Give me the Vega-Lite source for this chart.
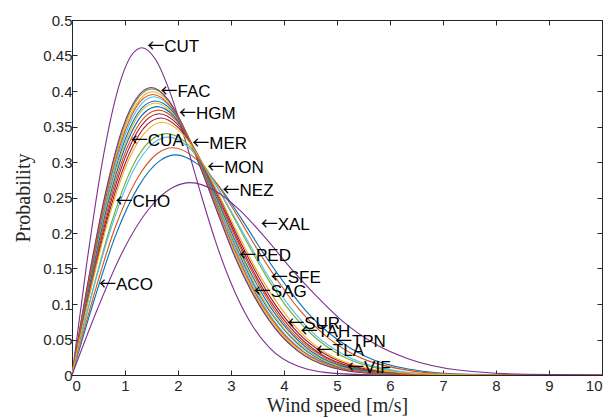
{
  "$schema": "https://vega.github.io/schema/vega-lite/v6.json",
  "width": 530,
  "height": 355,
  "autosize": {"type": "none"},
  "padding": {"left": 72, "top": 20, "right": 10, "bottom": 43},
  "background": "white",
  "config": {
    "view": {"stroke": "#262626", "strokeWidth": 1},
    "axis": {
      "grid": false,
      "labelFont": "Liberation Sans",
      "labelFontSize": 15,
      "labelColor": "#262626",
      "tickColor": "#262626",
      "domainColor": "#262626",
      "tickSize": -5,
      "titleFont": "Liberation Serif",
      "titleFontSize": 20,
      "titleFontWeight": "normal",
      "titleColor": "#262626"
    }
  },
  "datasets": {
    "curves": [
      {"s": "ACO", "x": [0,0.42,0.83,1.25,1.66,1.96,2.35,2.77,3.19,3.6,4.02,4.43,4.99,5.54,6.37,7.48,8.86,10], "y": [0,0.106,0.198,0.265,0.302,0.31,0.298,0.266,0.221,0.173,0.128,0.089,0.051,0.026,0.008,0.001,0,0]},
      {"s": "CHO", "x": [0,0.4,0.8,1.21,1.61,1.9,2.28,2.68,3.08,3.48,3.89,4.29,4.82,5.36,6.16,7.24,8.58,10], "y": [0,0.109,0.205,0.274,0.312,0.32,0.308,0.275,0.229,0.179,0.132,0.092,0.053,0.027,0.009,0.001,0,0]},
      {"s": "CUA", "x": [0,0.32,0.65,0.97,1.29,1.52,1.83,2.15,2.47,2.8,3.12,3.44,3.87,4.3,4.95,5.81,6.88,10], "y": [0,0.136,0.255,0.342,0.389,0.399,0.384,0.342,0.285,0.223,0.165,0.115,0.066,0.034,0.011,0.002,0,0]},
      {"s": "CUT", "x": [0,0.28,0.56,0.84,1.12,1.32,1.58,1.86,2.14,2.42,2.7,2.98,3.35,3.72,4.28,5.02,5.95,10], "y": [0,0.158,0.295,0.395,0.45,0.461,0.444,0.396,0.33,0.258,0.19,0.133,0.076,0.039,0.012,0.002,0,0]},
      {"s": "FAC", "x": [0,0.32,0.64,0.96,1.28,1.51,1.81,2.13,2.45,2.77,3.09,3.41,3.83,4.26,4.9,5.75,6.82,10], "y": [0,0.138,0.257,0.345,0.393,0.403,0.388,0.345,0.288,0.225,0.166,0.116,0.066,0.034,0.011,0.002,0,0]},
      {"s": "HGM", "x": [0,0.33,0.66,0.99,1.31,1.55,1.86,2.19,2.52,2.85,3.18,3.5,3.94,4.38,5.04,5.91,7.01,10], "y": [0,0.134,0.25,0.336,0.382,0.392,0.377,0.336,0.28,0.219,0.162,0.113,0.064,0.033,0.011,0.002,0,0]},
      {"s": "MER", "x": [0,0.35,0.7,1.05,1.4,1.65,1.98,2.33,2.68,3.03,3.38,3.73,4.19,4.66,5.36,6.29,7.46,10], "y": [0,0.126,0.235,0.315,0.359,0.368,0.354,0.316,0.263,0.206,0.152,0.106,0.061,0.031,0.01,0.002,0,0]},
      {"s": "MON", "x": [0,0.33,0.67,1,1.33,1.57,1.89,2.22,2.55,2.89,3.22,3.55,4,4.44,5.11,5.99,7.1,10], "y": [0,0.132,0.247,0.331,0.377,0.386,0.372,0.331,0.276,0.216,0.16,0.111,0.064,0.033,0.01,0.002,0,0]},
      {"s": "NEZ", "x": [0,0.35,0.69,1.04,1.38,1.63,1.96,2.3,2.65,2.99,3.34,3.68,4.14,4.6,5.29,6.21,7.36,10], "y": [0,0.128,0.238,0.32,0.364,0.373,0.359,0.32,0.266,0.209,0.154,0.108,0.061,0.032,0.01,0.002,0,0]},
      {"s": "PED", "x": [0,0.34,0.67,1.01,1.34,1.58,1.9,2.24,2.58,2.91,3.25,3.58,4.03,4.48,5.15,6.05,7.17,10], "y": [0,0.131,0.245,0.328,0.374,0.383,0.368,0.328,0.274,0.214,0.158,0.11,0.063,0.033,0.01,0.002,0,0]},
      {"s": "SAG", "x": [0,0.32,0.64,0.95,1.27,1.5,1.8,2.12,2.44,2.76,3.07,3.39,3.82,4.24,4.88,5.72,6.78,10], "y": [0,0.138,0.259,0.347,0.395,0.405,0.389,0.347,0.289,0.226,0.167,0.117,0.067,0.035,0.011,0.002,0,0]},
      {"s": "SFE", "x": [0,0.38,0.76,1.13,1.51,1.78,2.14,2.52,2.9,3.28,3.65,4.03,4.54,5.04,5.8,6.8,8.06,10], "y": [0,0.116,0.218,0.292,0.332,0.34,0.328,0.292,0.243,0.19,0.141,0.098,0.056,0.029,0.009,0.001,0,0]},
      {"s": "SUR", "x": [0,0.38,0.77,1.15,1.54,1.81,2.18,2.56,2.94,3.33,3.71,4.1,4.61,5.12,5.89,6.91,8.19,10], "y": [0,0.115,0.214,0.287,0.327,0.335,0.322,0.287,0.239,0.187,0.138,0.097,0.055,0.029,0.009,0.001,0,0]},
      {"s": "TAH", "x": [0,0.36,0.71,1.07,1.42,1.68,2.01,2.37,2.73,3.08,3.44,3.79,4.27,4.74,5.45,6.4,7.58,10], "y": [0,0.124,0.231,0.31,0.353,0.362,0.348,0.31,0.259,0.202,0.149,0.104,0.059,0.031,0.01,0.002,0,0]},
      {"s": "TLA", "x": [0,0.34,0.68,1.02,1.36,1.61,1.93,2.27,2.61,2.95,3.29,3.63,4.09,4.54,5.22,6.13,7.26,10], "y": [0,0.129,0.242,0.324,0.369,0.378,0.364,0.324,0.27,0.211,0.156,0.109,0.062,0.032,0.01,0.002,0,0]},
      {"s": "TPN", "x": [0,0.33,0.65,0.98,1.3,1.53,1.84,2.17,2.5,2.82,3.15,3.47,3.91,4.34,4.99,5.86,6.94,10], "y": [0,0.135,0.253,0.339,0.386,0.395,0.38,0.339,0.282,0.221,0.163,0.114,0.065,0.034,0.011,0.002,0,0]},
      {"s": "VIF", "x": [0,0.36,0.72,1.08,1.45,1.7,2.05,2.41,2.77,3.13,3.49,3.86,4.34,4.82,5.54,6.51,7.71,10], "y": [0,0.122,0.228,0.305,0.347,0.356,0.342,0.305,0.254,0.199,0.147,0.103,0.058,0.03,0.01,0.002,0,0]},
      {"s": "XAL", "x": [0,0.48,0.95,1.43,1.9,2.24,2.69,3.17,3.65,4.12,4.6,5.07,5.71,6.34,7.29,8.56,10], "y": [0,0.093,0.173,0.232,0.264,0.271,0.26,0.232,0.193,0.151,0.112,0.078,0.044,0.023,0.007,0.001,0]}
    ],
    "tags": [
      {"t": "CUT", "x": 1.42, "y": 0.462},
      {"t": "FAC", "x": 1.67, "y": 0.399},
      {"t": "HGM", "x": 2.02, "y": 0.368},
      {"t": "CUA", "x": 1.11, "y": 0.329},
      {"t": "MER", "x": 2.27, "y": 0.325},
      {"t": "MON", "x": 2.55, "y": 0.291},
      {"t": "NEZ", "x": 2.84, "y": 0.259},
      {"t": "CHO", "x": 0.82, "y": 0.243},
      {"t": "ACO", "x": 0.51, "y": 0.127},
      {"t": "XAL", "x": 3.56, "y": 0.211},
      {"t": "PED", "x": 3.15, "y": 0.167},
      {"t": "SFE", "x": 3.75, "y": 0.136},
      {"t": "SAG", "x": 3.43, "y": 0.117},
      {"t": "SUR", "x": 4.06, "y": 0.072},
      {"t": "TAH", "x": 4.31, "y": 0.06},
      {"t": "TPN", "x": 4.96, "y": 0.047},
      {"t": "TLA", "x": 4.6, "y": 0.034},
      {"t": "VIF", "x": 5.19, "y": 0.01}
    ]
  },
  "layer": [
    {
      "data": {"name": "curves"},
      "transform": [{"flatten": ["x", "y"]}],
      "mark": {"type": "line", "interpolate": "monotone", "strokeWidth": 1.1, "clip": true},
      "encoding": {
        "x": {
          "field": "x", "type": "quantitative",
          "scale": {"domain": [0, 10], "nice": false},
          "axis": {"orient": "bottom", "values": [0,1,2,3,4,5,6,7,8,9,10], "labelPadding": 8, "title": "Wind speed [m/s]", "titlePadding": 2}
        },
        "y": {
          "field": "y", "type": "quantitative",
          "scale": {"domain": [0, 0.5], "nice": false},
          "axis": {"orient": "left", "values": [0,0.05,0.1,0.15,0.2,0.25,0.3,0.35,0.4,0.45,0.5], "format": "~g", "labelPadding": 5, "title": "Probability", "titlePadding": 9}
        },
        "color": {
          "field": "s", "type": "nominal", "legend": null,
          "scale": {
            "domain": ["ACO","CHO","CUA","CUT","FAC","HGM","MER","MON","NEZ","PED","SAG","SFE","SUR","TAH","TLA","TPN","VIF","XAL"],
            "range": ["#0072BD","#D95319","#EDB120","#7E2F8E","#77AC30","#4DBEEE","#A2142F","#0072BD","#D95319","#EDB120","#7E2F8E","#77AC30","#4DBEEE","#A2142F","#0072BD","#D95319","#EDB120","#7E2F8E"]
          }
        }
      }
    },
    {
      "data": {"name": "tags"},
      "mark": {"type": "text", "align": "left", "baseline": "middle", "font": "Noto Sans CJK SC", "fontWeight": "normal", "fontSize": 17, "color": "black", "text": "←"},
      "encoding": {
        "x": {
          "field": "x", "type": "quantitative",
          "axis": {"orient": "top", "values": [0,1,2,3,4,5,6,7,8,9,10], "labels": false, "title": null}
        },
        "y": {
          "field": "y", "type": "quantitative",
          "axis": {"orient": "right", "values": [0,0.05,0.1,0.15,0.2,0.25,0.3,0.35,0.4,0.45,0.5], "labels": false, "title": null}
        }
      }
    },
    {
      "data": {"name": "tags"},
      "mark": {"type": "text", "align": "left", "baseline": "middle", "font": "Liberation Sans", "fontSize": 17, "color": "black", "dx": 17},
      "encoding": {
        "x": {"field": "x", "type": "quantitative", "axis": null},
        "y": {"field": "y", "type": "quantitative", "axis": null},
        "text": {"field": "t"}
      }
    }
  ],
  "resolve": {"axis": {"x": "independent", "y": "independent"}}
}
